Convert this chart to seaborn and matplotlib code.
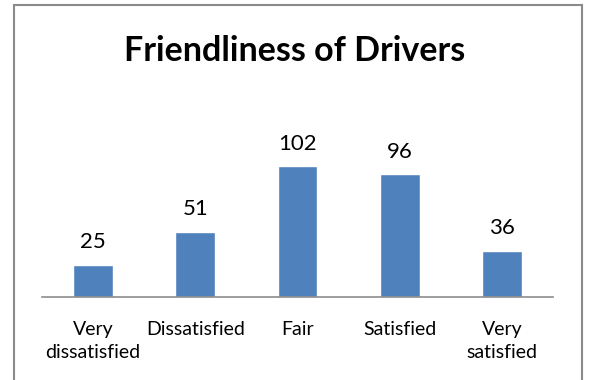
import matplotlib
matplotlib.use("Agg")
import matplotlib.pyplot as plt
import seaborn as sns
import pandas as pd
from matplotlib.patches import Rectangle

categories = ["Very\ndissatisfied", "Dissatisfied", "Fair", "Satisfied", "Very\nsatisfied"]
counts = [25, 51, 102, 96, 36]
title = "Friendliness of Drivers"

sns.set_theme(style="white")
plt.rcParams["font.family"] = ["Lato", "DejaVu Sans"]

df = pd.DataFrame({"category": categories, "count": counts})

W, H = 589, 380
fig = plt.figure(figsize=(W / 100, H / 100), dpi=100)
ax = fig.add_axes([42 / W, (H - 297) / H, (553 - 42) / W, (297 - 143.4) / H])

sns.barplot(data=df, x="category", y="count", color="#4F81BD", width=0.39,
            saturation=1, ax=ax)

ax.set_ylim(0, 120)
ax.set_xlim(-0.5, len(categories) - 0.5)
ax.set_xlabel("")
ax.set_ylabel("")
ax.set_yticks([])
for side in ("left", "right", "top"):
    ax.spines[side].set_visible(False)
ax.spines["bottom"].set_color("#8c8c8c")
ax.spines["bottom"].set_linewidth(1.2)
ax.tick_params(axis="x", length=0, pad=17, labelsize=14, colors="black")
for lbl in ax.get_xticklabels():
    lbl.set_linespacing(1.45)

for container in ax.containers:
    ax.bar_label(container, labels=[str(v) for v in counts], padding=9,
                 fontsize=16, color="black")

fig.text(0.5, (H - 51) / H, title, ha="center", va="center",
         fontsize=24.5, fontweight="bold", color="black")

# outer chart frame
fig.patches.append(Rectangle((13.5 / W, -0.05), (582 - 13.5) / W, (H - 4.5) / H + 0.05,
                             transform=fig.transFigure, fill=False,
                             edgecolor="#8a8a8a", linewidth=1.5))

fig.savefig("out.png", dpi=100, facecolor="white")
